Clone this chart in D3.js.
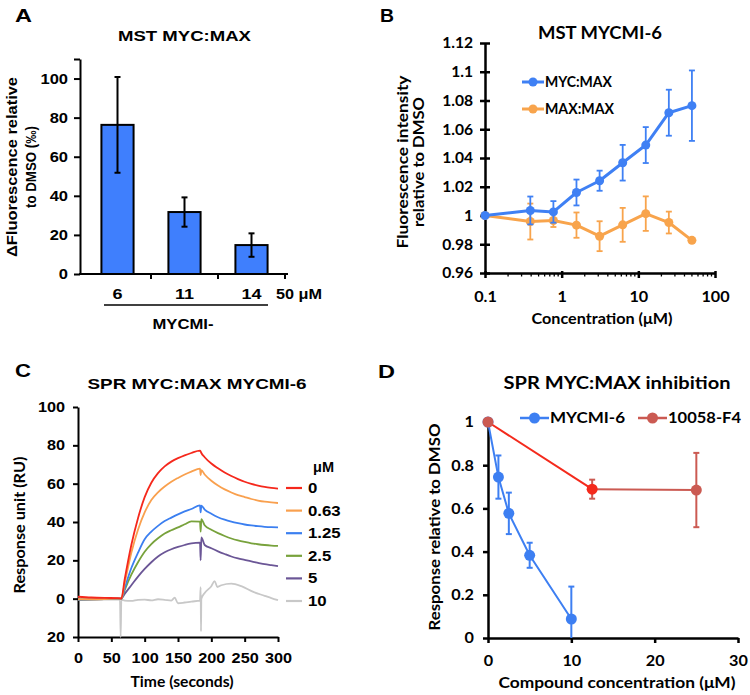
<!DOCTYPE html>
<html>
<head>
<meta charset="utf-8">
<script src="https://cdn.jsdelivr.net/npm/d3@7"></script>
<style>body{margin:0;background:#fff}</style>
</head>
<body>
<script>
// ---------- data ----------
// A: MST MYC:MAX, change in fluorescence at 50 uM
const mstCompounds = ["6", "11", "14"];
const mstDelta = [76.3, 31.7, 14.8];
const mstDeltaErr = [24.5, 7.5, 6];

// B: MST MYCMI-6 titration (first point = DMSO, drawn at 0.1)
const mstConc = [0.1, 0.39, 0.78, 1.56, 3.125, 6.25, 12.5, 25, 50];
const mycMaxFluo = [1.0, 1.0035, 1.0025, 1.016, 1.0242, 1.0367, 1.049, 1.0715, 1.0764];
const mycMaxErr = [0, 0.0097, 0.0075, 0.009, 0.007, 0.0124, 0.0125, 0.016, 0.0245];
const maxMaxFluo = [1.0, 0.9958, 0.9965, 0.9933, 0.9856, 0.9935, 1.0013, 0.9951, 0.9827];
const maxMaxErr = [0, 0.0125, 0.0045, 0.0088, 0.0104, 0.0118, 0.012, 0.0076, 0];
const yTicksB = [0.96, 0.98, 1, 1.02, 1.04, 1.06, 1.08, 1.1, 1.12];
const xTicksB = [0.1, 1, 10, 100];

// C: SPR sensorgrams, one per MYCMI-6 concentration (uM)
const sprConc = ["0", "0.63", "1.25", "2.5", "5", "10"];
const sprTime = [0, 20, 40, 60, 64, 65, 70, 80, 90, 100, 110, 120, 130, 140, 150, 160, 170, 183, 184, 185, 190, 200, 210, 220, 230, 240, 250, 260, 270, 280, 290, 300];
const spr0 = [1.0, 0.6, 0.4, 0.3, 0.2, 0, 10, 28, 42, 53, 60.5, 65.5, 69, 71.5, 73.3, 74.8, 76, 77.2, 76.8, 76, 73.8, 70.5, 68, 65.8, 64, 62.4, 61, 59.9, 59, 58.3, 57.8, 57.4];
const spr063 = [-0.3, -0.3, -0.2, 0, 0, 0, 8, 24, 36, 45, 51.5, 55.5, 58.5, 61, 63, 64.8, 66.3, 67.8, 64.5, 67, 64.8, 61.5, 59, 57, 55.4, 54, 53, 52, 51.2, 50.6, 50.2, 49.9];
const spr125 = [-0.5, -0.4, -0.2, 0, 0, 0, 5.5, 16, 24, 31, 35, 38, 40.5, 42.3, 44, 45.5, 46.8, 48.7, 45, 48.5, 46.5, 44.3, 42.5, 41.2, 40.2, 39.4, 38.7, 38.2, 37.8, 37.5, 37.3, 37.2];
const spr25 = [-0.5, -0.4, -0.2, 0, 0, 0, 4.5, 12.5, 19, 24.5, 28.5, 31.5, 34, 35.7, 37.2, 38.8, 40.3, 40.2, 35, 41.5, 38.3, 36, 34.2, 32.7, 31.4, 30.4, 29.6, 28.9, 28.4, 28, 27.7, 27.5];
const spr5 = [-0.5, -0.4, -0.2, 0, 0, 0, 2.5, 7, 11.5, 15.5, 19, 22, 24.2, 25.8, 27, 28, 28.8, 29.2, 20, 32, 28, 26.3, 24.7, 23.3, 22, 21, 20.2, 19.4, 18.7, 18, 17.5, 17];
const sprTime10 = [0, 30, 63, 64, 65, 70, 80, 90, 100, 110, 120, 130, 140, 145, 150, 160, 170, 183, 184, 184.5, 185, 190, 200, 205, 209, 215, 230, 245, 263, 280, 290, 300];
const spr10 = [-0.5, -0.5, -0.4, -20, -0.5, -1, -1.2, -0.6, -0.5, -0.9, -0.3, -0.6, -1, 0.5, -2.4, -2, -1.5, -1, 6, -17, 0, 3, 6.5, 9.2, 6.1, 7, 7.8, 6.5, 3.5, 1.5, 0.3, -0.8];

// D: SPR inhibition
const inhConcMycmi = [0, 1.25, 2.5, 5, 10];
const inhMycmi = [1, 0.745, 0.577, 0.383, 0.088];
const inhMycmiErr = [0, 0.1, 0.096, 0.058, 0.15];
const inhConcF4 = [0, 12.5, 25];
const inhF4 = [1, 0.689, 0.685];
const inhF4Err = [0, 0.044, 0.172];

// ---------- helpers ----------
const svg = d3.select("body").append("svg").attr("width", 750).attr("height", 695);
svg.append("rect").attr("width", 750).attr("height", 695).attr("fill", "#fff");

const ARIAL = "'Liberation Sans', Arial, sans-serif";
const CALI = "Lato, 'Open Sans', sans-serif";

// the figure is a bit wider than tall, so text is stretched sideways
function stretch(sel, k) {
    sel.each(function () {
        let w = this.getComputedTextLength();
        if (w > 0) d3.select(this).attr("textLength", w * k).attr("lengthAdjust", "spacingAndGlyphs");
    });
}

function label(x, y, str, o) {
    let t = svg.append("text")
        .attr("x", x).attr("y", y).text(str)
        .attr("font-family", o.font).attr("font-size", o.size)
        .attr("font-weight", "bold")
        .attr("text-anchor", o.anchor || "middle");
    if (o.rot) t.attr("transform", "rotate(-90," + x + "," + y + ")");
    if (o.w) t.attr("textLength", o.w).attr("lengthAdjust", "spacingAndGlyphs");
    else stretch(t, o.k || 1.2);
    return t;
}

function styleAxis(g, font, size, sw, k) {
    g.select(".domain").attr("stroke", "#000").attr("stroke-width", sw);
    g.selectAll(".tick line").attr("stroke", "#000").attr("stroke-width", sw);
    let tx = g.selectAll(".tick text")
        .attr("font-family", font).attr("font-size", size)
        .attr("font-weight", "bold").attr("fill", "#000");
    stretch(tx, k);
}

function errorBars(g, xs, ys, es, x, y, color, cap, sw, floor) {
    xs.forEach(function (c, i) {
        if (!es[i]) return;
        let top = y(ys[i] + es[i]);
        let lo = ys[i] - es[i];
        let clipped = floor !== undefined && lo < floor;
        let bot = y(clipped ? floor : lo);
        let cx = x(c);
        g.append("line").attr("x1", cx).attr("x2", cx).attr("y1", top).attr("y2", bot)
            .attr("stroke", color).attr("stroke-width", sw);
        g.append("line").attr("x1", cx - cap / 2).attr("x2", cx + cap / 2).attr("y1", top).attr("y2", top)
            .attr("stroke", color).attr("stroke-width", sw);
        if (!clipped) {
            g.append("line").attr("x1", cx - cap / 2).attr("x2", cx + cap / 2).attr("y1", bot).attr("y2", bot)
                .attr("stroke", color).attr("stroke-width", sw);
        }
    });
}

// ---------- panel letters ----------
label(15, 22, "A", {font: ARIAL, size: 19, anchor: "start", w: 17});
label(380, 22, "B", {font: ARIAL, size: 19, anchor: "start", w: 14});
label(15, 377, "C", {font: ARIAL, size: 19, anchor: "start", w: 16});
label(378, 378, "D", {font: ARIAL, size: 19, anchor: "start", w: 17});

// ---------- A ----------
let gA = svg.append("g");
let xA = d3.scaleBand().domain(mstCompounds).range([84, 285]).paddingInner(0.52).paddingOuter(0.26);
let yA = d3.scaleLinear().domain([0, 110]).range([274, 59]);

gA.selectAll("rect.bar")
    .data(mstCompounds)
    .enter()
    .append("rect")
    .attr("class", "bar")
    .attr("x", d => xA(d))
    .attr("width", xA.bandwidth())
    .attr("y", (d, i) => yA(mstDelta[i]))
    .attr("height", (d, i) => yA(0) - yA(mstDelta[i]))
    .attr("fill", "#3f7ffd")
    .attr("stroke", "#000")
    .attr("stroke-width", 2);

errorBars(gA, mstCompounds, mstDelta, mstDeltaErr, d => xA(d) + xA.bandwidth() / 2, yA, "#000", 6, 2);

let axA = gA.append("g")
    .attr("transform", "translate(80,0)")
    .call(d3.axisLeft(yA).tickValues([0, 20, 40, 60, 80, 100, 110]).tickSize(6).tickSizeOuter(0).tickPadding(6)
        .tickFormat(d => d === 110 ? "" : d));
styleAxis(axA, ARIAL, 14, 2, 1.18);

// x axis with ticks between categories
gA.append("line").attr("x1", 79).attr("x2", 288).attr("y1", yA(0)).attr("y2", yA(0))
    .attr("stroke", "#000").attr("stroke-width", 2);
mstCompounds.forEach(function (d) {
    let tx = xA(d) + xA.bandwidth() + (xA.step() - xA.bandwidth()) / 2;
    gA.append("line").attr("x1", tx).attr("x2", tx).attr("y1", yA(0)).attr("y2", yA(0) + 5)
        .attr("stroke", "#000").attr("stroke-width", 2);
    label(xA(d) + xA.bandwidth() / 2, 299, d, {font: ARIAL, size: 15});
});
label(276, 299, "50 \u03bcM", {font: ARIAL, size: 14.5, anchor: "start", w: 46});
gA.append("line").attr("x1", 104).attr("x2", 268).attr("y1", 305).attr("y2", 305)
    .attr("stroke", "#000").attr("stroke-width", 1.5);
label(183, 329, "MYCMI-", {font: ARIAL, size: 15, w: 61});

label(184.5, 41, "MST MYC:MAX", {font: ARIAL, size: 15.5, w: 133});
label(17, 167, "\u0394Fluorescence relative", {font: ARIAL, size: 14, rot: true, w: 180});
label(36, 167, "to DMSO (\u2030)", {font: ARIAL, size: 14, rot: true, w: 82});

// ---------- B ----------
let gB = svg.append("g");
let xB = d3.scaleLog().domain([0.1, 100]).range([485, 715]);
let yB = d3.scaleLinear().domain([0.96, 1.12]).range([273, 43]);

let axBy = gB.append("g")
    .attr("transform", "translate(485,0)")
    .call(d3.axisLeft(yB).tickValues(yTicksB).tickSize(5).tickSizeOuter(0).tickPadding(7).tickFormat(d => String(d)));
styleAxis(axBy, CALI, 15, 2.5, 1.04);
axBy.selectAll(".tick line").attr("x1", -5).attr("x2", 5);

let axBx = gB.append("g")
    .attr("transform", "translate(0,273)")
    .call(d3.axisBottom(xB).tickValues(xTicksB).tickSize(5).tickSizeOuter(0).tickFormat(d => String(d)));
styleAxis(axBx, CALI, 15, 2.5, 1.08);
axBx.selectAll(".tick text").attr("y", 29).attr("dy", null);
axBx.selectAll(".tick line").attr("y1", -2);
// minor log ticks
gB.selectAll("line.minor")
    .data(xB.ticks().filter(v => !xTicksB.includes(v)))
    .enter()
    .append("line")
    .attr("class", "minor")
    .attr("x1", d => xB(d)).attr("x2", d => xB(d))
    .attr("y1", 273).attr("y2", 276.5)
    .attr("stroke", "#000").attr("stroke-width", 1.3);

const orangeB = "#f8a44c", blueB = "#3f80f4";
let lineB = d3.line().x((d, i) => xB(mstConc[i])).y(d => yB(d));

errorBars(gB, mstConc, maxMaxFluo, maxMaxErr, xB, yB, orangeB, 6, 1.8);
gB.append("path").datum(maxMaxFluo).attr("d", lineB)
    .attr("fill", "none").attr("stroke", orangeB).attr("stroke-width", 3).attr("stroke-linejoin", "round");
gB.selectAll("circle.mm").data(maxMaxFluo).enter().append("circle").attr("class", "mm")
    .attr("cx", (d, i) => xB(mstConc[i])).attr("cy", d => yB(d)).attr("r", 4.5).attr("fill", orangeB);

errorBars(gB, mstConc, mycMaxFluo, mycMaxErr, xB, yB, blueB, 6, 1.8);
gB.append("path").datum(mycMaxFluo).attr("d", lineB)
    .attr("fill", "none").attr("stroke", blueB).attr("stroke-width", 3).attr("stroke-linejoin", "round");
gB.selectAll("circle.my").data(mycMaxFluo).enter().append("circle").attr("class", "my")
    .attr("cx", (d, i) => xB(mstConc[i])).attr("cy", d => yB(d)).attr("r", 4.5).attr("fill", blueB);

// legend B
[["MYC:MAX", blueB, 82, 67], ["MAX:MAX", orangeB, 109, 69]].forEach(function (l) {
    gB.append("line").attr("x1", 522).attr("x2", 544).attr("y1", l[2]).attr("y2", l[2])
        .attr("stroke", l[1]).attr("stroke-width", 3);
    gB.append("circle").attr("cx", 533).attr("cy", l[2]).attr("r", 4.5).attr("fill", l[1]);
    label(545, l[2] + 5, l[0], {font: CALI, size: 15, anchor: "start", w: l[3]});
});

label(600, 39, "MST MYCMI-6", {font: CALI, size: 16.5, w: 124});
label(602, 324, "Concentration (\u03bcM)", {font: CALI, size: 15, w: 141});
label(408, 162, "Fluorescence intensity", {font: CALI, size: 15.5, rot: true, w: 173});
label(424, 162, "relative to DMSO", {font: CALI, size: 15.5, rot: true, w: 130});

// ---------- C ----------
let gC = svg.append("g");
let xC = d3.scaleLinear().domain([0, 300]).range([78, 278]);
let yC = d3.scaleLinear().domain([-20, 100]).range([637, 407]);

let axCy = gC.append("g")
    .attr("transform", "translate(78,0)")
    .call(d3.axisLeft(yC).tickValues([-20, 0, 20, 40, 60, 80, 100]).tickSize(5).tickSizeOuter(0).tickPadding(8)
        .tickFormat(d => Math.abs(d)));
styleAxis(axCy, ARIAL, 14, 2, 1.16);

let axCx = gC.append("g")
    .attr("transform", "translate(0,637)")
    .call(d3.axisBottom(xC).tickValues([0, 50, 100, 150, 200, 250, 300]).tickSize(5).tickSizeOuter(0));
styleAxis(axCx, ARIAL, 14, 2, 1.16);
axCx.selectAll(".tick text").attr("y", 26).attr("dy", null);

const sprColors = ["#f5281c", "#f9a04e", "#3b7ff0", "#78a23c", "#6b5696", "#c8c8c8"];
const sprSeries = [spr0, spr063, spr125, spr25, spr5];
let lineC = d3.line().curve(d3.curveMonotoneX).x(d => xC(d[0])).y(d => yC(d[1]));

gC.append("path").datum(sprTime10.map((t, i) => [t, spr10[i]])).attr("d", lineC)
    .attr("fill", "none").attr("stroke", sprColors[5]).attr("stroke-width", 1.8);
for (let s = sprSeries.length - 1; s >= 0; s--) {
    gC.append("path").datum(sprTime.map((t, i) => [t, sprSeries[s][i]])).attr("d", lineC)
        .attr("fill", "none").attr("stroke", sprColors[s]).attr("stroke-width", 1.8);
}

// legend C
label(313, 472, "\u03bcM", {font: ARIAL, size: 14, anchor: "start", w: 21});
sprConc.forEach(function (c, i) {
    let ly = 488 + i * 22.6;
    gC.append("line").attr("x1", 286).attr("x2", 302).attr("y1", ly).attr("y2", ly)
        .attr("stroke", sprColors[i]).attr("stroke-width", 2.2);
    label(308, ly + 5, c, {font: ARIAL, size: 14, anchor: "start", k: 1.2});
});

label(197, 389, "SPR MYC:MAX MYCMI-6", {font: ARIAL, size: 15.5, w: 219});
label(182, 687, "Time (seconds)", {font: CALI, size: 15, w: 103});
label(25, 525, "Response unit (RU)", {font: CALI, size: 15, rot: true, w: 137});

// ---------- D ----------
let gD = svg.append("g");
let xD = d3.scaleLinear().domain([0, 30]).range([488, 738]);
let yD = d3.scaleLinear().domain([0, 1]).range([638, 422]);

let axDy = gD.append("g")
    .attr("transform", "translate(488,0)")
    .call(d3.axisLeft(yD).tickValues([0, 0.2, 0.4, 0.6, 0.8, 1]).tickSize(5).tickSizeOuter(0).tickPadding(9)
        .tickFormat(d => String(d)));
styleAxis(axDy, CALI, 15, 2.5, 1.08);

let axDx = gD.append("g")
    .attr("transform", "translate(0,638)")
    .call(d3.axisBottom(xD).tickValues([0, 10, 20, 30]).tickSize(5).tickSizeOuter(0));
styleAxis(axDx, CALI, 15, 2.5, 1.08);
axDx.selectAll(".tick text").attr("y", 27.5).attr("dy", null);

const blueD = "#3d7ff2", redD = "#f42a1c", salmonD = "#cb5a52";

errorBars(gD, inhConcMycmi, inhMycmi, inhMycmiErr, xD, yD, blueD, 6, 2, 0);
gD.append("path").datum(inhMycmi)
    .attr("d", d3.line().x((d, i) => xD(inhConcMycmi[i])).y(d => yD(d)))
    .attr("fill", "none").attr("stroke", blueD).attr("stroke-width", 2);
gD.selectAll("circle.mycmi").data(inhMycmi).enter().append("circle").attr("class", "mycmi")
    .attr("cx", (d, i) => xD(inhConcMycmi[i])).attr("cy", d => yD(d)).attr("r", 5.5).attr("fill", blueD);

errorBars(gD, inhConcF4, inhF4, inhF4Err, xD, yD, salmonD, 6, 2);
for (let i = 0; i < inhF4.length - 1; i++) {
    gD.append("line")
        .attr("x1", xD(inhConcF4[i])).attr("y1", yD(inhF4[i]))
        .attr("x2", xD(inhConcF4[i + 1])).attr("y2", yD(inhF4[i + 1]))
        .attr("stroke", i === 0 ? redD : salmonD).attr("stroke-width", 2);
}
gD.selectAll("circle.f4").data(inhF4).enter().append("circle").attr("class", "f4")
    .attr("cx", (d, i) => xD(inhConcF4[i])).attr("cy", d => yD(d)).attr("r", 5.5)
    .attr("fill", (d, i) => i === 1 ? redD : salmonD);

// legend D
[["MYCMI-6", blueD, 520, 75], ["10058-F4", salmonD, 638, 73]].forEach(function (l) {
    gD.append("line").attr("x1", l[2]).attr("x2", l[2] + 29).attr("y1", 418).attr("y2", 418)
        .attr("stroke", l[1]).attr("stroke-width", 2.5);
    gD.append("circle").attr("cx", l[2] + 14.5).attr("cy", 418).attr("r", 5.5).attr("fill", l[1]);
    label(l[2] + 30, 423, l[0], {font: CALI, size: 15.5, anchor: "start", w: l[3]});
});

label(617, 389, "SPR MYC:MAX inhibition", {font: CALI, size: 16.5, w: 227});
label(617, 688, "Compound concentration (\u03bcM)", {font: CALI, size: 15.5, w: 237});
label(440, 527, "Response relative to DMSO", {font: CALI, size: 15.5, rot: true, w: 207});
</script>
</body>
</html>
